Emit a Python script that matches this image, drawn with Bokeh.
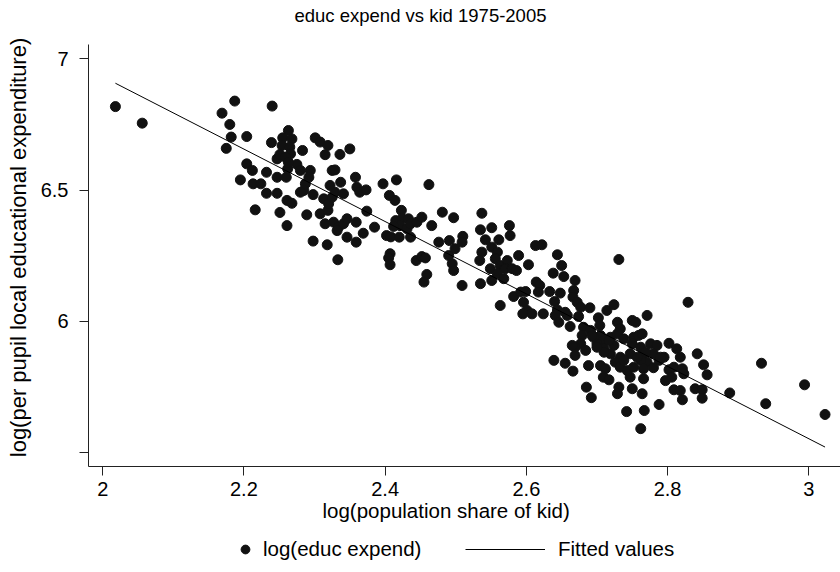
from bokeh.plotting import figure
from bokeh.layouts import column
from bokeh.models import Range1d, FixedTicker, NumeralTickFormatter, Legend, LegendItem, Title
from bokeh.embed import file_html
from bokeh.resources import INLINE

kid = [2.018, 2.056, 2.187, 2.240, 2.169, 2.180, 2.182, 2.175, 2.204, 2.239,
       2.263, 2.255, 2.268, 2.254, 2.265, 2.283, 2.301, 2.308, 2.319, 2.315,
       2.336, 2.350, 2.397, 2.204, 2.212, 2.195, 2.213, 2.224, 2.232, 2.232,
       2.247, 2.251, 2.247, 2.260, 2.247, 2.262, 2.275, 2.280, 2.294, 2.292,
       2.287, 2.285, 2.280, 2.216, 2.251, 2.261, 2.268, 2.261, 2.289, 2.298,
       2.308, 2.319, 2.313, 2.320, 2.325, 2.329, 2.325, 2.329, 2.322, 2.337,
       2.315, 2.327, 2.334, 2.341, 2.346, 2.332, 2.359, 2.341, 2.358, 2.360,
       2.364, 2.373, 2.374, 2.385, 2.369, 2.346, 2.359, 2.298, 2.318, 2.402,
       2.406, 2.333, 2.266, 2.259, 2.263, 2.416, 2.462, 2.414, 2.423, 2.415,
       2.424, 2.433, 2.421, 2.412, 2.431, 2.436, 2.445, 2.452, 2.408, 2.420,
       2.436, 2.466, 2.481, 2.497, 2.476, 2.491, 2.499, 2.510, 2.509, 2.490,
       2.495, 2.497, 2.407, 2.405, 2.444, 2.452, 2.457, 2.459, 2.455, 2.509,
       2.535, 2.537, 2.535, 2.551, 2.542, 2.561, 2.576, 2.577, 2.537, 2.534,
       2.551, 2.559, 2.556, 2.563, 2.573, 2.570, 2.549, 2.559, 2.568, 2.580,
       2.589, 2.551, 2.586, 2.407, 2.613, 2.622, 2.644, 2.731, 2.603, 2.638,
       2.650, 2.653, 2.669, 2.667, 2.666, 2.672, 2.677, 2.690, 2.614, 2.619,
       2.617, 2.633, 2.648, 2.640, 2.644, 2.655, 2.582, 2.592, 2.599, 2.596,
       2.601, 2.595, 2.608, 2.624, 2.563, 2.641, 2.646, 2.658, 2.662, 2.674,
       2.702, 2.704, 2.714, 2.724, 2.681, 2.691, 2.679, 2.677, 2.669, 2.684,
       2.729, 2.733, 2.750, 2.755, 2.771, 2.705, 2.710, 2.719, 2.729, 2.738,
       2.724, 2.710, 2.700, 2.695, 2.752, 2.759, 2.750, 2.762, 2.776, 2.785,
       2.665, 2.669, 2.639, 2.719, 2.733, 2.747, 2.766, 2.780, 2.829, 2.764,
       2.802, 2.813, 2.818, 2.842, 2.769, 2.795, 2.788, 2.771, 2.762, 2.766,
       2.780, 2.802, 2.809, 2.821, 2.823, 2.806, 2.797, 2.851, 2.856, 2.766,
       2.809, 2.818, 2.839, 2.849, 2.821, 2.849, 2.764, 2.788, 2.767, 2.762,
       2.888, 2.933, 2.939, 2.994, 3.023, 2.655, 2.666, 2.688, 2.685, 2.692,
       2.709, 2.717, 2.731, 2.729, 2.742, 2.750, 2.747, 2.726, 2.710, 2.700,
       2.705, 2.712, 2.733, 2.743, 2.752, 2.738, 2.757, 2.790, 2.693, 2.717]

expend = [6.818, 6.755, 6.839, 6.820, 6.793, 6.750, 6.702, 6.659, 6.704, 6.681,
          6.727, 6.699, 6.695, 6.670, 6.664, 6.651, 6.699, 6.683, 6.670, 6.635,
          6.636, 6.657, 6.524, 6.600, 6.575, 6.539, 6.524, 6.524, 6.488, 6.568,
          6.619, 6.636, 6.549, 6.549, 6.488, 6.581, 6.598, 6.575, 6.575, 6.549,
          6.524, 6.499, 6.492, 6.425, 6.415, 6.461, 6.450, 6.365, 6.406, 6.483,
          6.410, 6.423, 6.467, 6.448, 6.473, 6.492, 6.575, 6.577, 6.518, 6.530,
          6.372, 6.378, 6.359, 6.372, 6.391, 6.346, 6.378, 6.486, 6.549, 6.511,
          6.492, 6.501, 6.420, 6.359, 6.336, 6.321, 6.302, 6.306, 6.292, 6.327,
          6.480, 6.235, 6.638, 6.625, 6.606, 6.539, 6.521, 6.461, 6.423, 6.384,
          6.391, 6.391, 6.365, 6.362, 6.353, 6.372, 6.378, 6.397, 6.322, 6.321,
          6.321, 6.365, 6.416, 6.395, 6.302, 6.308, 6.277, 6.324, 6.302, 6.251,
          6.220, 6.194, 6.258, 6.242, 6.232, 6.247, 6.242, 6.179, 6.150, 6.137,
          6.144, 6.412, 6.349, 6.357, 6.311, 6.311, 6.365, 6.327, 6.264, 6.232,
          6.283, 6.264, 6.239, 6.213, 6.232, 6.201, 6.201, 6.182, 6.163, 6.201,
          6.251, 6.156, 6.194, 6.216, 6.289, 6.292, 6.254, 6.236, 6.216, 6.184,
          6.213, 6.171, 6.156, 6.118, 6.093, 6.073, 6.054, 6.052, 6.150, 6.137,
          6.112, 6.114, 6.108, 6.076, 6.044, 6.035, 6.095, 6.112, 6.114, 6.073,
          6.042, 6.029, 6.029, 6.029, 6.061, 6.023, 5.997, 6.023, 5.981, 6.019,
          6.014, 5.985, 6.042, 6.064, 5.978, 5.966, 5.947, 5.915, 5.902, 5.890,
          5.997, 5.972, 6.004, 5.997, 6.023, 5.947, 5.928, 5.940, 5.953, 5.934,
          5.909, 5.896, 5.915, 5.940, 5.940, 5.947, 5.915, 5.902, 5.915, 5.909,
          5.909, 5.871, 5.852, 5.877, 5.864, 5.877, 5.877, 5.877, 6.073, 5.953,
          5.917, 5.896, 5.864, 5.877, 5.883, 5.864, 5.852, 5.845, 5.852, 5.820,
          5.824, 5.816, 5.826, 5.820, 5.801, 5.788, 5.775, 5.835, 5.797, 5.782,
          5.740, 5.737, 5.744, 5.740, 5.702, 5.708, 5.725, 5.684, 5.661, 5.592,
          5.728, 5.841, 5.687, 5.759, 5.646, 5.841, 5.811, 5.832, 5.750, 5.710,
          5.788, 5.778, 5.750, 5.725, 5.657, 5.744, 5.788, 5.845, 5.883, 5.902,
          5.832, 5.820, 5.826, 5.813, 5.826, 5.852, 5.864, 5.864, 5.947, 5.928]

fit_x = [2.018, 3.023]
fit_y = [6.907, 5.522]

x_ticks = [2, 2.2, 2.4, 2.6, 2.8, 3]
y_ticks = [5.5, 6, 6.5, 7]
y_label_overrides = {5.5: ""}
y_axis_extent = (5.448, 7.0544)

title_text = "educ expend vs kid 1975-2005"
x_title = "log(population share of kid)"
y_title = "log(per pupil local educational expenditure)"
legend_labels = ["log(educ expend)", "Fitted values"]

FONT = "Liberation Sans"
INK = "#111111"

p = figure(width=840, height=530, output_backend="svg", toolbar_location=None,
           x_range=Range1d(1.9799, 3.0449), y_range=Range1d(5.448, 7.1153),
           min_border_left=88, min_border_right=0, min_border_top=28, min_border_bottom=64)
p.outline_line_color = None
p.grid.visible = False
p.background_fill_color = "white"
p.border_fill_color = "white"

p.title = Title(text=title_text, align="left", offset=206, standoff=5,
                text_font=FONT, text_font_size="18.5px", text_font_style="normal",
                text_color="black")

for ax in (p.xaxis[0], p.yaxis[0]):
    ax.axis_line_color = "#222222"
    ax.axis_line_width = 1
    ax.major_tick_line_color = "#222222"
    ax.major_tick_in = 0
    ax.major_tick_out = 9
    ax.minor_tick_line_color = None
    ax.major_label_text_font = FONT
    ax.major_label_text_font_size = "20px"
    ax.major_label_text_color = "black"
    ax.axis_label_text_font = FONT
    ax.axis_label_text_font_style = "normal"
    ax.axis_label_text_color = "black"
    ax.formatter = NumeralTickFormatter(format="0.[0]")

p.xaxis.ticker = FixedTicker(ticks=x_ticks)
p.yaxis.ticker = FixedTicker(ticks=y_ticks)
p.yaxis.bounds = y_axis_extent
p.yaxis.major_label_overrides = y_label_overrides
p.yaxis.major_label_orientation = "horizontal"
p.yaxis.axis_label = y_title
p.yaxis.axis_label_text_font_size = "22px"
p.xaxis.major_label_standoff = 6
p.yaxis.major_label_standoff = 11
p.yaxis.axis_label_standoff = 7

p.add_layout(Title(text=x_title, align="left", offset=234, standoff=0, vertical_align="top",
                   text_font=FONT, text_font_size="20.5px", text_font_style="normal",
                   text_color="black"), "below")

pts = p.scatter(kid, expend, size=10, marker="circle", fill_color=INK, line_color=INK)
fit = p.line(fit_x, fit_y, line_color="black", line_width=1)

# legend strip below the chart (its own ranges keep the series out of view)
q = figure(width=840, height=42, output_backend="svg", toolbar_location=None,
           x_range=Range1d(0, 1), y_range=Range1d(0, 1),
           x_axis_location=None, y_axis_location=None, min_border=0)
q.outline_line_color = None
q.grid.visible = False
q.border_fill_color = "white"
q.background_fill_color = "white"
key_pts = q.scatter(kid, expend, size=10, marker="circle", fill_color=INK, line_color=INK)
key_fit = q.line(fit_x, fit_y, line_color="black", line_width=1)

common = dict(border_line_color=None, background_fill_alpha=0, padding=0, margin=0,
              spacing=0, label_text_font=FONT, label_text_font_size="20.5px",
              label_text_color="black", label_height=22, glyph_height=22)
leg1 = Legend(items=[LegendItem(label=legend_labels[0], renderers=[key_pts])],
              location=(146, 11), glyph_width=22, label_standoff=7, **common)
leg2 = Legend(items=[LegendItem(label=legend_labels[1], renderers=[key_fit])],
              location=(377, 11), glyph_width=80, label_standoff=13, **common)
q.add_layout(leg1, "center")
q.add_layout(leg2, "center")

layout = column(p, q, spacing=0)
open("out.html", "w").write(file_html(layout, INLINE))
